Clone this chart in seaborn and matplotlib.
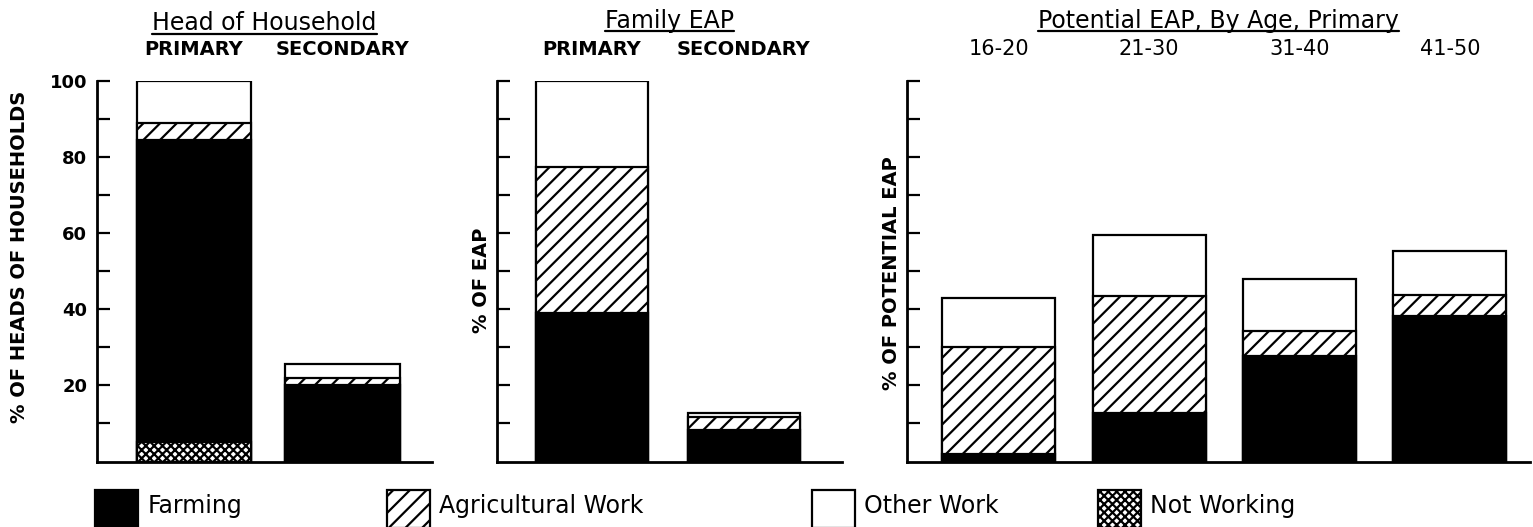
import numpy as np
import pandas as pd
import matplotlib
matplotlib.use("Agg")
import matplotlib.pyplot as plt
from matplotlib.patches import Patch, Rectangle
from matplotlib.lines import Line2D
from matplotlib.legend_handler import HandlerPatch
import seaborn as sns

# ---- data -------------------------------------------------------------
# Head of household occupation (% of heads of households)
hoh_groups = ["PRIMARY", "SECONDARY"]
hoh_not_working = [5.0, 0.0]
hoh_farming = [79.5, 20.0]
hoh_agricultural = [4.5, 2.0]
hoh_other = [11.0, 3.5]

# Family economically active population (% of EAP)
fam_groups = ["PRIMARY", "SECONDARY"]
fam_farming = [39.0, 8.3]
fam_agricultural = [38.5, 3.4]
fam_other = [22.5, 1.1]

# Potential EAP by age group, primary households (% of potential EAP)
age_groups = ["16-20", "21-30", "31-40", "41-50"]
age_farming = [2.0, 12.7, 27.8, 38.3]
age_agricultural = [28.0, 30.7, 6.5, 5.4]
age_other = [13.0, 16.0, 13.7, 11.5]

panel_titles = ["Head of Household", "Family EAP", "Potential EAP, By Age, Primary"]
y_labels = ["% OF HEADS OF HOUSEHOLDS", "% OF EAP", "% OF POTENTIAL EAP"]
legend_labels = ["Farming", "Agricultural Work", "Other Work", "Not Working"]
y_ticks = [10, 20, 30, 40, 50, 60, 70, 80, 90, 100]
y_tick_labels = ["", "20", "", "40", "", "60", "", "80", "", "100"]

# ---- style ------------------------------------------------------------
sns.set_theme(style="white")
plt.rcParams["font.family"] = ["DejaVu Sans"]
plt.rcParams["hatch.linewidth"] = 1.6
plt.rcParams["hatch.color"] = "black"
plt.rcParams["text.color"] = "black"
plt.rcParams["axes.labelcolor"] = "black"
plt.rcParams["xtick.color"] = "black"
plt.rcParams["ytick.color"] = "black"

STYLE = {
    "farming": dict(color="black"),
    "agricultural": dict(color="white", hatch="//"),
    "other": dict(color="white"),
    "not_working": dict(color="white", hatch="xxxx"),
}

W, H = 1533, 527
fig = plt.figure(figsize=(W / 100, H / 100), dpi=100)
fig.patch.set_facecolor("white")

AX_TOP, AX_BOT = 81, 461.5


def make_axes(left, right):
    return fig.add_axes([left / W, (H - AX_BOT) / H, (right - left) / W, (AX_BOT - AX_TOP) / H])


def draw_stack(ax, groups, segments, width):
    """Stacked bars: segments are listed bottom to top; cumulative totals
    are drawn from the tallest down so each layer shows its own band."""
    df = pd.DataFrame({"group": groups})
    running = np.zeros(len(groups))
    tops = []
    for vals, key in segments:
        running = running + np.asarray(vals, dtype=float)
        tops.append((running.copy(), key))
    for top, key in reversed(tops):
        df["top"] = top
        sns.barplot(data=df, x="group", y="top", order=groups, ax=ax, width=width,
                    errorbar=None, saturation=1, edgecolor="black", linewidth=1.6,
                    **STYLE[key])


ax1 = make_axes(97, 432)
ax2 = make_axes(497, 842)
ax3 = make_axes(906.5, 1530)

draw_stack(ax1, hoh_groups, [(hoh_not_working, "not_working"), (hoh_farming, "farming"),
                             (hoh_agricultural, "agricultural"), (hoh_other, "other")], 0.77)
draw_stack(ax2, fam_groups, [(fam_farming, "farming"), (fam_agricultural, "agricultural"),
                             (fam_other, "other")], 0.74)
draw_stack(ax3, age_groups, [(age_farming, "farming"), (age_agricultural, "agricultural"),
                             (age_other, "other")], 0.75)

xlims = [(-0.653, 1.603), (-0.625, 1.645), (-0.614, 3.533)]
label_coords = [(-0.203, 0.537), (-0.017, 0.477), (-0.009, 0.495)]
title_offsets = [36.5, 38.5, 38.5]
groups_list = [hoh_groups, fam_groups, age_groups]

title_texts = []
for i, ax in enumerate([ax1, ax2, ax3]):
    ax.set_ylim(0, 100)
    ax.set_xlim(*xlims[i])
    for side in ["top", "right"]:
        ax.spines[side].set_visible(False)
    for side in ["left", "bottom"]:
        ax.spines[side].set_visible(True)
        ax.spines[side].set_linewidth(2.0)
        ax.spines[side].set_color("black")
    ax.set_facecolor("white")
    ax.grid(False)

    ax.set_yticks(y_ticks)
    if i == 0:
        ax.set_yticklabels(y_tick_labels, fontsize=13, fontweight="bold")
    else:
        ax.set_yticklabels([])
    ax.tick_params(axis="y", direction="in", length=9, width=1.6, left=True,
                   pad=7, colors="black")

    groups = groups_list[i]
    ax.set_xticks(range(len(groups)))
    ax.set_xticklabels(groups)
    ax.xaxis.tick_top()
    ax.tick_params(axis="x", length=0, pad=16, top=True, bottom=False,
                   labeltop=True, labelbottom=False, colors="black")
    for lab in ax.get_xticklabels():
        if i < 2:
            lab.set_fontsize(14)
            lab.set_fontweight("bold")
        else:
            lab.set_fontsize(15)

    ax.set_xlabel("")
    ax.set_ylabel(y_labels[i], fontsize=14, fontweight="bold", color="black")
    ax.yaxis.set_label_coords(*label_coords[i])

    t = ax.annotate(panel_titles[i], xy=(0.5, 1.0), xycoords="axes fraction",
                    xytext=(0, title_offsets[i]), textcoords="offset points",
                    ha="center", va="baseline", fontsize=17, color="black")
    title_texts.append(t)

# ---- legend -----------------------------------------------------------
def tall_patch(legend, orig_handle, xdescent, ydescent, width, height, fontsize):
    extra = 5.0
    return Rectangle((-xdescent, -ydescent - extra), width, height + extra)


legend_handles = [
    Patch(facecolor="black", edgecolor="black", linewidth=1.6),
    Patch(facecolor="white", edgecolor="black", hatch="//", linewidth=1.6),
    Patch(facecolor="white", edgecolor="black", linewidth=1.6),
    Patch(facecolor="white", edgecolor="black", hatch="xxxx", linewidth=1.6),
]
legend_x = [95, 387, 812, 1098]
for handle, label, lx in zip(legend_handles, legend_labels, legend_x):
    leg = fig.legend(handles=[handle], labels=[label], loc="upper left",
                     bbox_to_anchor=(lx / W, 1 - 490 / H), frameon=False,
                     borderpad=0, borderaxespad=0, fontsize=17,
                     handlelength=1.82, handleheight=1.64, handletextpad=0.4,
                     handler_map={Patch: HandlerPatch(patch_func=tall_patch)})
    for txt in leg.get_texts():
        txt.set_color("black")

# ---- underlines beneath the panel titles --------------------------------
fig.canvas.draw()
renderer = fig.canvas.get_renderer()
for t in title_texts:
    bb = t.get_window_extent(renderer)
    y = bb.y0 + 1.5
    fig.add_artist(Line2D([bb.x0 / W, bb.x1 / W], [y / H, y / H],
                          transform=fig.transFigure, color="black", linewidth=1.6))

fig.savefig("out.png", dpi=100, facecolor="white")
